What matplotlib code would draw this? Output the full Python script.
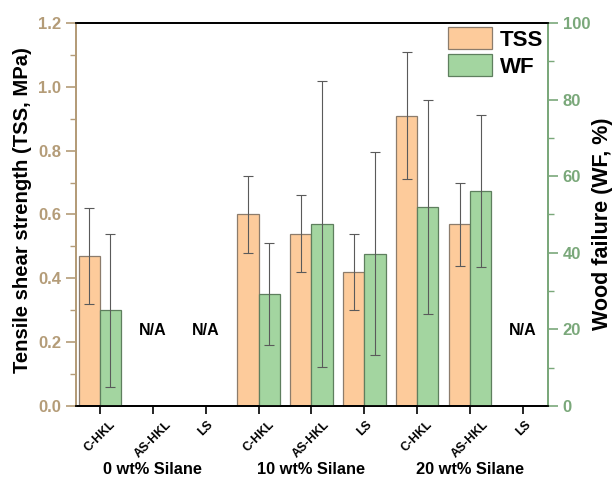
import numpy as np
import matplotlib
matplotlib.use("Agg")
import matplotlib.pyplot as plt
from matplotlib.ticker import MultipleLocator

plt.rcParams['font.family'] = ['Liberation Sans', 'DejaVu Sans']
plt.rcParams['font.weight'] = 'bold'

categories = ["C-HKL", "AS-HKL", "LS", "C-HKL", "AS-HKL", "LS", "C-HKL", "AS-HKL", "LS"]
groups = ["0 wt% Silane", "10 wt% Silane", "20 wt% Silane"]
tss = [0.47, None, None, 0.60, 0.54, 0.42, 0.91, 0.57, None]
tss_err = [0.15, None, None, 0.12, 0.12, 0.12, 0.20, 0.13, None]
wf = [25.0, None, None, 29.3, 47.6, 39.8, 52.0, 56.1, None]
wf_err = [20.0, None, None, 13.3, 37.3, 26.5, 28.0, 19.8, None]

TAN = '#b49c78'
GREEN = '#7aa87a'
TSS_FILL = '#fdcb9b'
WF_FILL = '#a3d5a0'

fig = plt.figure(figsize=(6.15, 4.79), dpi=100)
ax = fig.add_axes([0.1236, 0.1524, 0.7675, 0.7996])
ax2 = ax.twinx()

x = np.arange(len(categories))
w = 0.4
ti = [i for i, v in enumerate(tss) if v is not None]
wi = [i for i, v in enumerate(wf) if v is not None]

b1 = ax.bar(x[ti] - w / 2, [tss[i] for i in ti], width=w, color=TSS_FILL,
            edgecolor='#8c7c6c', linewidth=0.9, label='TSS', zorder=2)
ax.errorbar(x[ti] - w / 2, [tss[i] for i in ti], yerr=[tss_err[i] for i in ti],
            fmt='none', ecolor='#5a5a5a', elinewidth=0.8, capsize=3.5, capthick=0.8, zorder=3)
b2 = ax2.bar(x[wi] + w / 2, [wf[i] for i in wi], width=w, color=WF_FILL,
             edgecolor='#5e7f5e', linewidth=0.9, label='WF', zorder=2)
ax2.errorbar(x[wi] + w / 2, [wf[i] for i in wi], yerr=[wf_err[i] for i in wi],
             fmt='none', ecolor='#5a5a5a', elinewidth=0.8, capsize=3.5, capthick=0.8, zorder=3)

for i, v in enumerate(tss):
    if v is None:
        ax.text(x[i], 0.237, "N/A", ha='center', va='center', fontsize=11.5, fontweight='bold')

ax.set_xlim(-0.45, 8.47)
ax.set_ylim(0, 1.2)
ax2.set_ylim(0, 100)

ax.set_xticks(x)
ax.set_xticklabels(categories, rotation=45, ha='center', fontsize=8.8, fontweight='bold')
ax.tick_params(axis='x', direction='out', length=6, width=1.2, color='black', pad=3)

ax.yaxis.set_major_locator(MultipleLocator(0.2))
ax.yaxis.set_minor_locator(MultipleLocator(0.1))
ax.yaxis.set_major_formatter(matplotlib.ticker.FormatStrFormatter('%.1f'))
ax.tick_params(axis='y', which='major', direction='out', length=7, width=1.2, colors=TAN, labelsize=12)
ax.tick_params(axis='y', which='minor', direction='out', length=4, width=1.0, color=TAN)
for lab in ax.get_yticklabels():
    lab.set_fontweight('bold')

ax2.yaxis.set_major_locator(MultipleLocator(20))
ax2.yaxis.set_minor_locator(MultipleLocator(10))
ax2.tick_params(axis='y', which='major', direction='out', length=7, width=1.2, colors=GREEN, labelsize=12)
ax2.tick_params(axis='y', which='minor', direction='out', length=4, width=1.0, color=GREEN)
for lab in ax2.get_yticklabels():
    lab.set_fontweight('bold')

for a in (ax, ax2):
    a.spines['top'].set_color('black')
    a.spines['bottom'].set_color('black')
    a.spines['left'].set_color(TAN)
    a.spines['right'].set_color(GREEN)
    for s in a.spines.values():
        s.set_linewidth(1.3)

ax.set_ylabel("Tensile shear strength (TSS, MPa)", fontsize=14.6, fontweight='bold')
ax.yaxis.set_label_coords(-0.094, 0.512)
ax2.set_ylabel("Wood failure (WF, %)", fontsize=15.5, fontweight='bold')
ax2.yaxis.set_label_coords(1.093, 0.477)

trans = matplotlib.transforms.blended_transform_factory(ax.transData, ax.transAxes)
for g, name in enumerate(groups):
    ax.text(3 * g + 1, -0.167, name, transform=trans, ha='center', va='center',
            fontsize=11.8, fontweight='bold')

leg = ax2.legend([b1, b2], ['TSS', 'WF'], loc='upper right', frameon=False,
                 prop={'size': 16, 'weight': 'bold'}, handlelength=2.0, handleheight=1.15,
                 borderaxespad=0.1, borderpad=0.1, labelspacing=0.15, handletextpad=0.35)

ax2.set_zorder(ax.get_zorder() + 1)
ax2.patch.set_visible(False)

fig.savefig("out.png", dpi=100)
